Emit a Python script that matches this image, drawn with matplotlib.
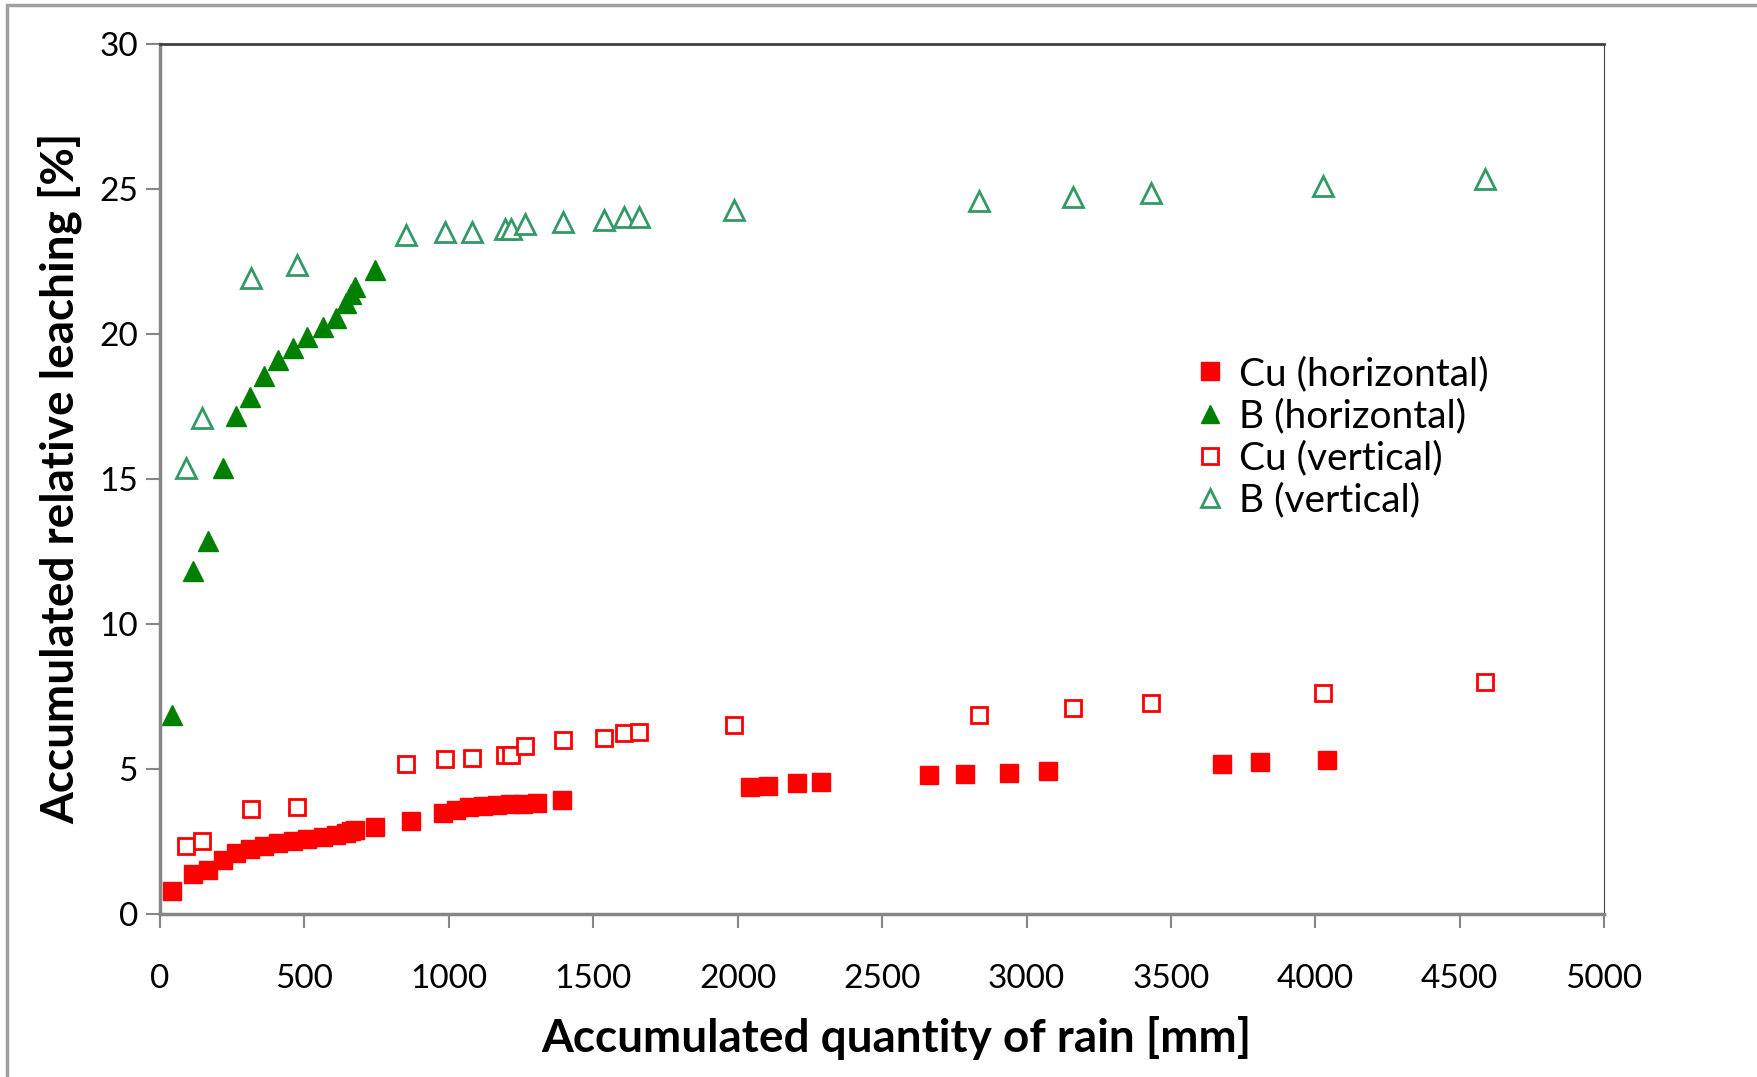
import matplotlib
matplotlib.use("Agg")
import matplotlib.pyplot as plt
from matplotlib.patches import Rectangle

# horizontal samples (filled markers)
b_hor_x = [43, 113, 167, 217, 264, 311, 361, 408, 462, 509, 563, 609, 644, 660, 675, 745]
b_hor_y = [6.83, 11.81, 12.86, 15.37, 17.14, 17.80, 18.53, 19.07, 19.50, 19.88,
           20.23, 20.54, 21.04, 21.35, 21.62, 22.20]

cu_hor_x = [43, 113, 167, 217, 264, 311, 361, 408, 462, 509, 563, 609, 644, 660, 675, 745,
            870, 978, 1025, 1071, 1118, 1165, 1211, 1258, 1304, 1392,
            2042, 2104, 2205, 2290, 2663, 2787, 2939, 3075, 3676, 3808, 4041]
cu_hor_y = [0.78, 1.36, 1.50, 1.85, 2.10, 2.22, 2.33, 2.42, 2.50, 2.57, 2.65, 2.72, 2.78, 2.83, 2.88, 2.97,
            3.20, 3.47, 3.58, 3.66, 3.70, 3.74, 3.76, 3.79, 3.82, 3.90,
            4.36, 4.40, 4.50, 4.55, 4.77, 4.82, 4.86, 4.93, 5.16, 5.22, 5.28]

# vertical samples (open markers)
vert_x = [89, 144, 314, 474, 850, 986, 1079, 1196, 1215, 1262, 1394, 1537, 1607, 1658,
          1988, 2834, 3160, 3432, 4026, 4588]
cu_vert_y = [2.32, 2.51, 3.59, 3.67, 5.14, 5.33, 5.37, 5.48, 5.48, 5.79, 5.98, 6.06, 6.22, 6.25,
             6.49, 6.83, 7.10, 7.26, 7.61, 7.99]
b_vert_y = [15.37, 17.07, 21.93, 22.36, 23.40, 23.51, 23.51, 23.59, 23.59, 23.78, 23.86, 23.90,
            24.02, 24.02, 24.25, 24.56, 24.71, 24.83, 25.10, 25.33]

RED = "#FF0000"
GREEN = "#008000"
SEA = "#339966"
GRID = "#868686"

plt.rcParams['font.family'] = ['Lato', 'DejaVu Sans']

fig = plt.figure(figsize=(17.57, 10.77), dpi=100)
fig.patches.append(Rectangle((0.004, -0.05), 1.2, 1.0454, transform=fig.transFigure,
                             fill=False, edgecolor="#a0a0a0", linewidth=2.5))
ax = fig.add_axes([0.0911, 0.1518, 0.8219, 0.8078])

ax.plot(cu_hor_x, cu_hor_y, 's', color=RED, markersize=13, label="Cu (horizontal)", clip_on=False)
ax.plot(b_hor_x, b_hor_y, '^', color=GREEN, markersize=14, label="B (horizontal)", clip_on=False)
ax.plot(vert_x, cu_vert_y, 's', markerfacecolor='white', markeredgecolor=RED, markeredgewidth=2,
        markersize=12, label="Cu (vertical)", clip_on=False)
ax.plot(vert_x, b_vert_y, '^', markerfacecolor='white', markeredgecolor=SEA, markeredgewidth=2,
        markersize=14, label="B (vertical)", clip_on=False)

ax.set_xlim(0, 5000)
ax.set_ylim(0, 30)
ax.set_xticks(range(0, 5001, 500))
ax.set_yticks(range(0, 31, 5))
ax.tick_params(axis='both', direction='out', length=10, width=1.5, color=GRID,
               labelsize=24, pad=6)
ax.tick_params(axis='x', pad=26)
for s in ['left', 'bottom']:
    ax.spines[s].set_color(GRID)
    ax.spines[s].set_linewidth(2.5)
ax.spines['top'].set_color("#404040")
ax.spines['top'].set_linewidth(2)
ax.spines['right'].set_color("#404040")
ax.spines['right'].set_linewidth(0.8)

ax.set_xlabel("Accumulated quantity of rain [mm]", fontsize=33, fontweight='bold')
ax.xaxis.set_label_coords(0.51, -0.118)
ax.set_ylabel("Accumulated relative leaching [%]", fontsize=33, fontweight='bold', labelpad=12)

leg = ax.legend(loc='center left', bbox_to_anchor=(0.671, 0.594), bbox_transform=fig.transFigure,
                frameon=False, fontsize=28, handlelength=0.6, handletextpad=0.45,
                labelspacing=0.16, borderpad=0, markerscale=0.95)

fig.savefig("out.png", dpi=100)
